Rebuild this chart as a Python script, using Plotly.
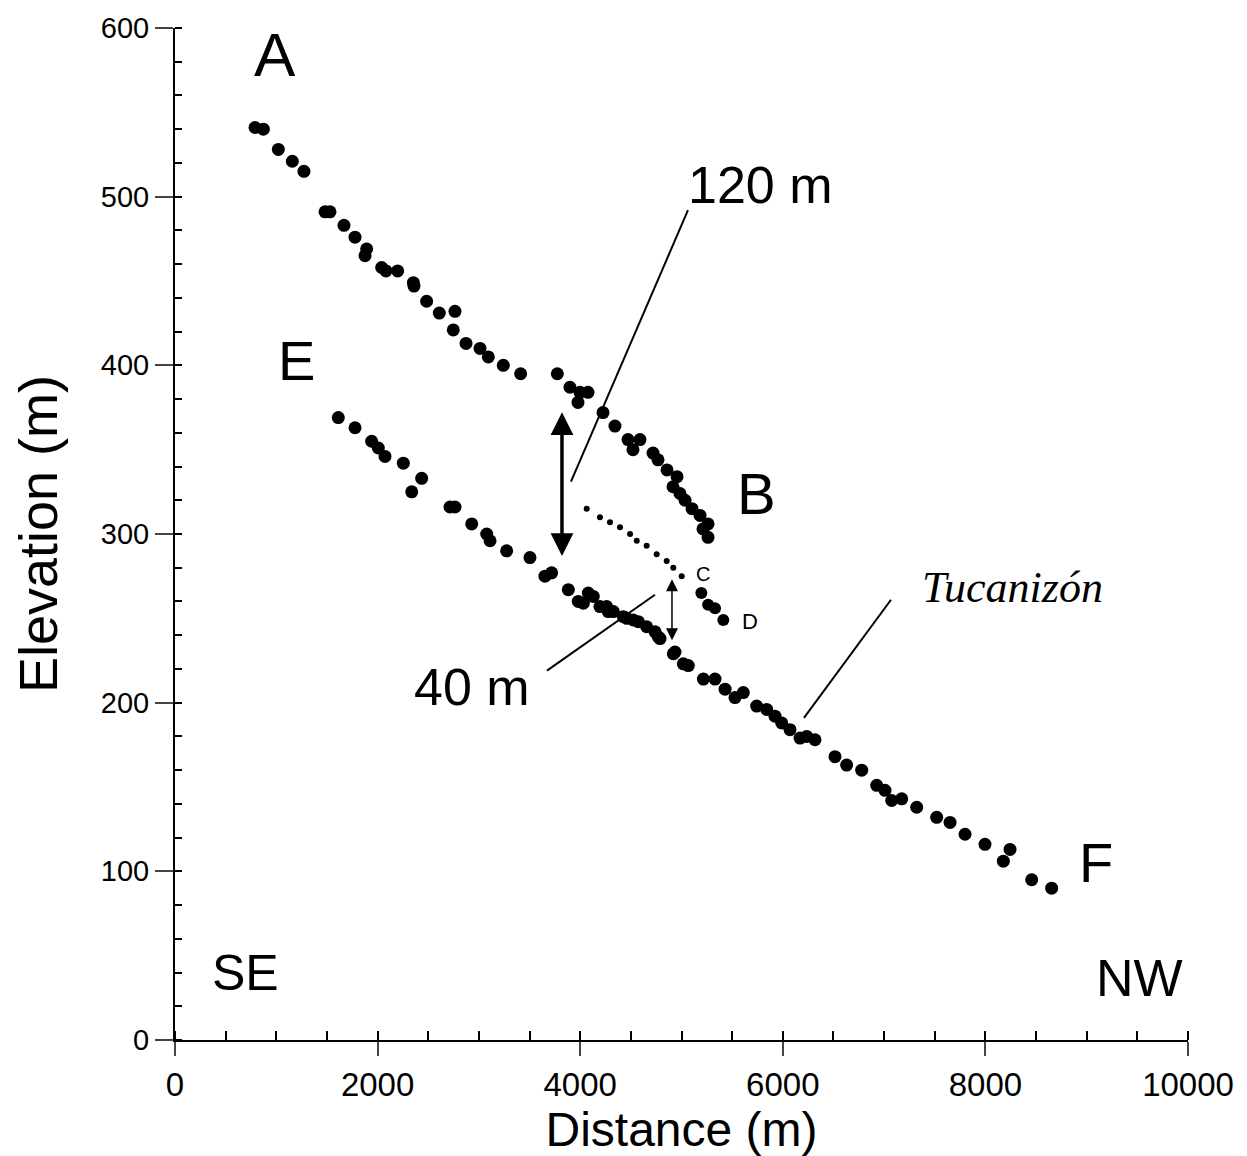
import plotly.graph_objects as go

# Upper terrace profile (A-B)
ab_dist = [790, 872, 1020, 1158, 1273, 1481, 1530, 1668, 1777, 1892, 1876, 2040, 2083, 2198,
           2353, 2359, 2484, 2609, 2764, 2747, 2873, 3011, 3093, 3241, 3412, 3774, 3899,
           3998, 4077, 3978, 4225, 4343, 4472, 4521, 4590, 4719, 4768, 4857, 4956, 4916,
           4985, 5035, 5104, 5183, 5262, 5212, 5262]
ab_elev = [541, 540, 528, 521, 515, 491, 491, 483, 476, 469, 465, 458, 456, 456,
           449, 447, 438, 431, 432, 421, 413, 410, 405, 400, 395, 395, 387,
           384, 384, 378, 372, 364, 356, 350, 356, 348, 344, 338, 334, 328,
           324, 320, 315, 311, 306, 303, 298]

# Projected surface (dotted, ending at C)
c_dist = [4064, 4195, 4294, 4393, 4492, 4558, 4656, 4755, 4854, 4919, 5002]
c_elev = [315, 310, 307, 304, 300, 296, 293, 288, 284, 280, 275]

# Segment ending at D
d_dist = [5196, 5263, 5331, 5413]
d_elev = [265, 258, 256, 249]

# Lower profile (E-F)
ef_dist = [1612, 1777, 1941, 2007, 2073, 2254, 2435, 2337, 2715, 2764, 2929, 3077, 3110,
           3274, 3504, 3652, 3718, 3883, 3981, 4031, 4080, 4129, 4195, 4261, 4277, 4327,
           4426, 4459, 4524, 4574, 4656, 4739, 4771, 4788, 4919, 4936, 5018, 5067, 5216,
           5331, 5430, 5528, 5610, 5742, 5841, 5923, 5989, 6071, 6170, 6236, 6318, 6515,
           6630, 6779, 6927, 7009, 7075, 7174, 7322, 7519, 7651, 7799, 7996, 8243, 8177,
           8457, 8654]
ef_elev = [369, 363, 355, 351, 346, 342, 333, 325, 316, 316, 306, 300, 296,
           290, 286, 275, 277, 267, 260, 259, 265, 263, 257, 257, 254, 254,
           251, 250, 249, 248, 245, 242, 239, 238, 229, 230, 223, 222, 214,
           214, 208, 203, 206, 198, 196, 192, 188, 184, 179, 180, 178, 168,
           163, 160, 151, 148, 142, 143, 138, 132, 129, 122, 116, 113, 106,
           95, 90]

FONT = "Liberation Sans, Arial, sans-serif"

fig = go.Figure()
for xs, ys, sz in [(ab_dist, ab_elev, 13), (c_dist, c_elev, 6), (d_dist, d_elev, 12), (ef_dist, ef_elev, 13)]:
    fig.add_trace(go.Scatter(x=xs, y=ys, mode="markers",
                             marker=dict(color="black", size=sz), showlegend=False))

# leader lines
for x0, y0, x1, y1 in [(5064, 492, 3909, 331), (3672, 219, 4738, 264), (7068, 261, 6209, 191)]:
    fig.add_shape(type="line", x0=x0, y0=y0, x1=x1, y1=y1, line=dict(color="black", width=2))

# double arrows
fig.add_annotation(x=3820, y=287, ax=3820, ay=373, xref="x", yref="y", axref="x", ayref="y",
                   text="", showarrow=True, arrowhead=2, arrowside="end+start",
                   arrowwidth=3.5, arrowsize=1.3, arrowcolor="black")
fig.add_annotation(x=4906, y=237, ax=4906, ay=274, xref="x", yref="y", axref="x", ayref="y",
                   text="", showarrow=True, arrowhead=2, arrowside="end+start",
                   arrowwidth=1.5, arrowsize=1.6, arrowcolor="black")

labels = [
    ("A", 987, 584, 62), ("E", 1204, 403, 56), ("B", 5745, 324, 58), ("F", 9092, 105, 56),
    ("C", 5212, 276, 20), ("D", 5676, 248, 22), ("120 m", 5775, 507, 52), ("40 m", 2932, 209, 52),
    ("SE", 691, 40, 50), ("NW", 9526, 37, 52),
]
for t, x, y, s in labels:
    fig.add_annotation(x=x, y=y, text=t, showarrow=False,
                       font=dict(family=FONT, size=s, color="black"))
fig.add_annotation(x=8263, y=268, text="<i>Tucanizón</i>", showarrow=False,
                   font=dict(family="Liberation Serif, Times New Roman, serif", size=44, color="black"))

fig.update_layout(
    width=1239, height=1148,
    margin=dict(l=167, r=59, t=20, b=116),
    paper_bgcolor="white", plot_bgcolor="white",
    xaxis=dict(range=[0, 10000], dtick=2000, tickformat="d", ticks="outside", ticklen=14, tickwidth=2,
               automargin=False,
               showline=True, linecolor="black", linewidth=2, showgrid=False, zeroline=False,
               minor=dict(ticks="inside", dtick=500, ticklen=9, tickwidth=1.5, tickcolor="black"),
               tickfont=dict(family=FONT, size=33, color="black"),
               title=dict(text="Distance (m)", font=dict(family=FONT, size=48, color="black"), standoff=0)),
    yaxis=dict(range=[0, 600], dtick=100, ticks="outside", ticklen=18, tickwidth=2,
               automargin=False,
               showline=True, linecolor="black", linewidth=2, showgrid=False, zeroline=False,
               minor=dict(ticks="inside", dtick=20, ticklen=7, tickwidth=1.5, tickcolor="black"),
               tickfont=dict(family=FONT, size=29, color="black"),
               title=dict(text="Elevation (m)", font=dict(family=FONT, size=54, color="black"), standoff=30)),
)

fig.write_html("out.html")
